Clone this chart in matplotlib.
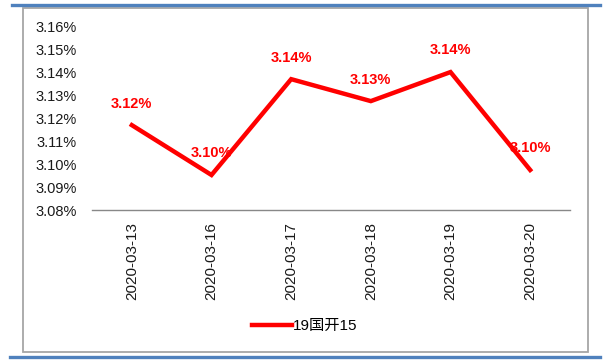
import matplotlib
matplotlib.use("Agg")
import matplotlib.pyplot as plt
from matplotlib.patches import Rectangle
from matplotlib.lines import Line2D
from matplotlib.ticker import FuncFormatter, MultipleLocator

dates = ["2020-03-13", "2020-03-16", "2020-03-17", "2020-03-18", "2020-03-19", "2020-03-20"]
rates = [3.1171, 3.0953, 3.1372, 3.1276, 3.1403, 3.0975]
series_name = "19国开15"

W, H = 613, 362
fig = plt.figure(figsize=(W / 100, H / 100), dpi=100)

# page decorations: blue rules and grey chart frame
fig.add_artist(Line2D([12 / W, 600 / W], [1 - 4.5 / H, 1 - 4.5 / H], color="#4f81bd", lw=2.4))
fig.add_artist(Line2D([10 / W, 600 / W], [1 - 356.5 / H, 1 - 356.5 / H], color="#4f81bd", lw=2.4))
fig.add_artist(Rectangle((23 / W, 1 - 352 / H), (588 - 23) / W, (352 - 8) / H,
                         fill=False, edgecolor="#a6a6a6", lw=1.3))

ax = fig.add_axes([92 / W, 1 - 210 / H, (570 - 92) / W, (210 - 27) / H])
x = list(range(len(dates)))
ax.plot(x, rates, color="#ff0000", lw=3.2, solid_joinstyle="miter", label=series_name)

ax.set_xlim(-0.5, len(dates) - 0.5)
ax.set_ylim(3.08, 3.16)
ax.yaxis.set_major_locator(MultipleLocator(0.01))
ax.yaxis.set_major_formatter(FuncFormatter(lambda v, p: f"{v:.2f}%"))
ax.set_xticks(x)
ax.set_xticklabels(dates, rotation=90)

for s in ["top", "left", "right"]:
    ax.spines[s].set_visible(False)
ax.spines["bottom"].set_color("#888888")
ax.spines["bottom"].set_linewidth(1.0)
ax.tick_params(axis="y", length=0, pad=11, labelsize=10.5, labelcolor="#1a1a1a")
ax.tick_params(axis="x", length=0, pad=9, labelsize=11, labelcolor="#1a1a1a")
for t in ax.get_yticklabels() + ax.get_xticklabels():
    t.set_fontfamily("Liberation Sans")

for xi, v in zip(x, rates):
    ax.annotate(f"{v:.2f}%", (xi, v), xytext=(0, 10.5), textcoords="offset points",
                ha="center", va="bottom", color="#ff0000", fontsize=10.5,
                fontweight="bold", family=["Liberation Sans", "Noto Sans CJK SC"])

leg = fig.legend(handles=ax.get_lines(), loc="center", bbox_to_anchor=(305 / W, 1 - 326 / H),
                 frameon=False, handlelength=2.6, handletextpad=0.1,
                 prop={"family": ["Liberation Sans", "Noto Sans CJK SC"], "size": 11})

fig.savefig("out.png", dpi=100)
